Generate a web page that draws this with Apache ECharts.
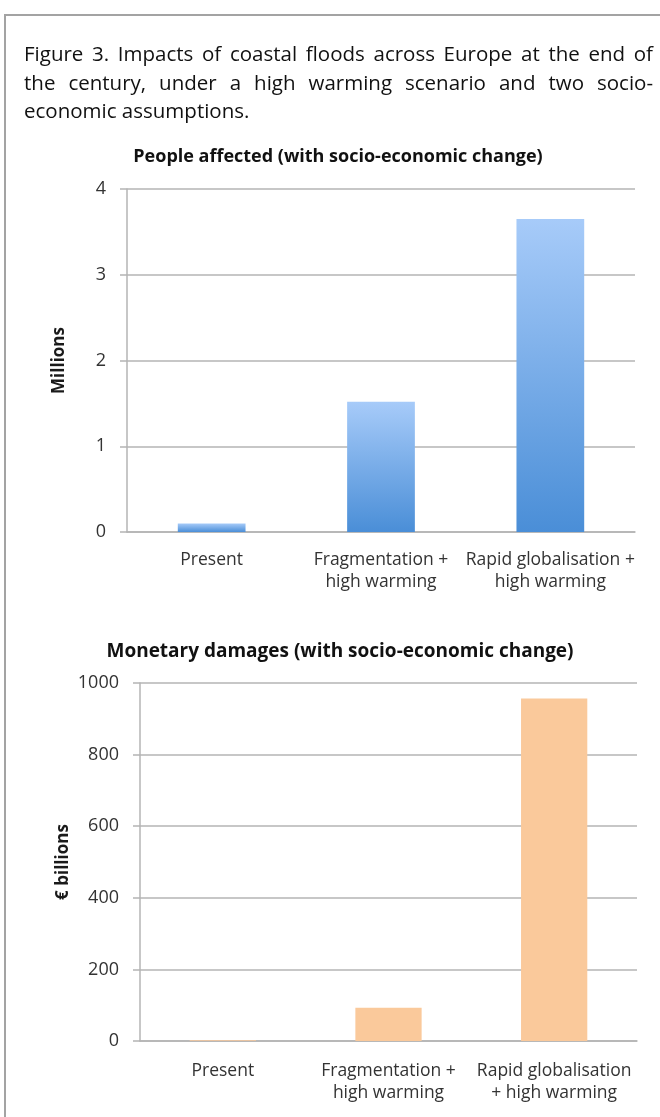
<!DOCTYPE html>
<html>
<head>
<meta charset="utf-8">
<script src="https://cdn.jsdelivr.net/npm/echarts@6/dist/echarts.min.js"></script>
<style>
  body { margin: 0; background: #fff; overflow: hidden; }
  .frame {
    position: absolute; left: 4px; top: 14px; width: 700px; height: 1200px;
    border-top: 2px solid #a3a3a3; border-left: 2px solid #a3a3a3;
  }
  .caption {
    position: absolute; left: 24px; top: 39px; width: 629px;
    font-family: "Open Sans"; font-size: 20.5px; line-height: 28.7px; color: #111;
    z-index: 2;
  }
  .caption div { text-align: justify; text-align-last: justify; }
  .caption div.last { text-align-last: left; }
  #main { position: absolute; left: 0; top: 0; width: 660px; height: 1117px; }
</style>
</head>
<body>
<div class="frame"></div>
<div id="main"></div>
<div class="caption">
  <div>Figure 3. Impacts of coastal floods across Europe at the end of</div>
  <div>the century, under a high warming scenario and two socio-</div>
  <div class="last">economic assumptions.</div>
</div>
<script>
// data
const categoriesPeople = ['Present', 'Fragmentation +\nhigh warming', 'Rapid globalisation +\nhigh warming'];
const categoriesMoney = ['Present', 'Fragmentation +\nhigh warming', 'Rapid globalisation\n+ high warming'];
const peopleAffected = [0.1, 1.52, 3.65];   // millions
const monetaryDamages = [2, 93, 957];      // € billions
const peopleTicks = { min: 0, max: 4, interval: 1 };
const moneyTicks = { min: 0, max: 1000, interval: 200 };

const FONT = 'Open Sans';
const GRAY = '#b4b4b4';
const TXT = '#333';

const chart = echarts.init(document.getElementById('main'));

function yAxis(gridIndex, ticks, name, nameGap) {
  return {
    type: 'value',
    gridIndex: gridIndex,
    min: ticks.min,
    max: ticks.max,
    interval: ticks.interval,
    name: name,
    nameLocation: 'middle',
    nameGap: nameGap,
    nameMoveOverlap: false,
    nameTextStyle: { fontFamily: FONT, fontWeight: 'bold', fontSize: 17, color: '#1a1a1a' },
    axisLine: { show: true, lineStyle: { color: GRAY, width: 1.5 } },
    axisTick: { show: true, length: 7, lineStyle: { color: GRAY, width: 1.5 } },
    splitLine: { lineStyle: { color: GRAY, width: 1.5 } },
    axisLabel: { fontFamily: FONT, fontSize: 18, color: TXT, margin: 21, formatter: v => String(v) }
  };
}

function xAxis(gridIndex, cats, margin) {
  return {
    type: 'category',
    gridIndex: gridIndex,
    data: cats,
    axisLine: { lineStyle: { color: GRAY, width: 1.5 } },
    axisTick: { length: 6, lineStyle: { color: GRAY, width: 1.5 } },
    axisLabel: { fontFamily: FONT, fontSize: 17.5, color: TXT, lineHeight: 22, margin: margin, interval: 0 }
  };
}

const option = {
  animation: false,
  grid: [
    { left: 127, right: 25, top: 189, bottom: 585 },
    { left: 140, right: 23, top: 683, bottom: 76 }
  ],
  xAxis: [xAxis(0, categoriesPeople, 17), xAxis(1, categoriesMoney, 19)],
  yAxis: [
    yAxis(0, peopleTicks, 'Millions', 59),
    yAxis(1, moneyTicks, '€ billions', 68)
  ],
  graphic: [
    {
      type: 'text', x: 338, y: 157,
      style: { text: 'People affected (with socio-economic change)', align: 'center', verticalAlign: 'middle',
        fontFamily: FONT, fontWeight: 'bold', fontSize: 18, fill: '#111' }
    },
    {
      type: 'text', x: 340, y: 652,
      style: { text: 'Monetary damages (with socio-economic change)', align: 'center', verticalAlign: 'middle',
        fontFamily: FONT, fontWeight: 'bold', fontSize: 19, fill: '#111' }
    }
  ],
  series: [
    {
      type: 'bar',
      xAxisIndex: 0,
      yAxisIndex: 0,
      barWidth: '40%',
      data: peopleAffected,
      itemStyle: {
        color: new echarts.graphic.LinearGradient(0, 0, 0, 1, [
          { offset: 0, color: '#a7cbf9' },
          { offset: 1, color: '#4a8ed7' }
        ])
      }
    },
    {
      type: 'bar',
      xAxisIndex: 1,
      yAxisIndex: 1,
      barWidth: '40%',
      data: monetaryDamages,
      itemStyle: { color: '#fac99b' }
    }
  ]
};

chart.setOption(option);
</script>
</body>
</html>
